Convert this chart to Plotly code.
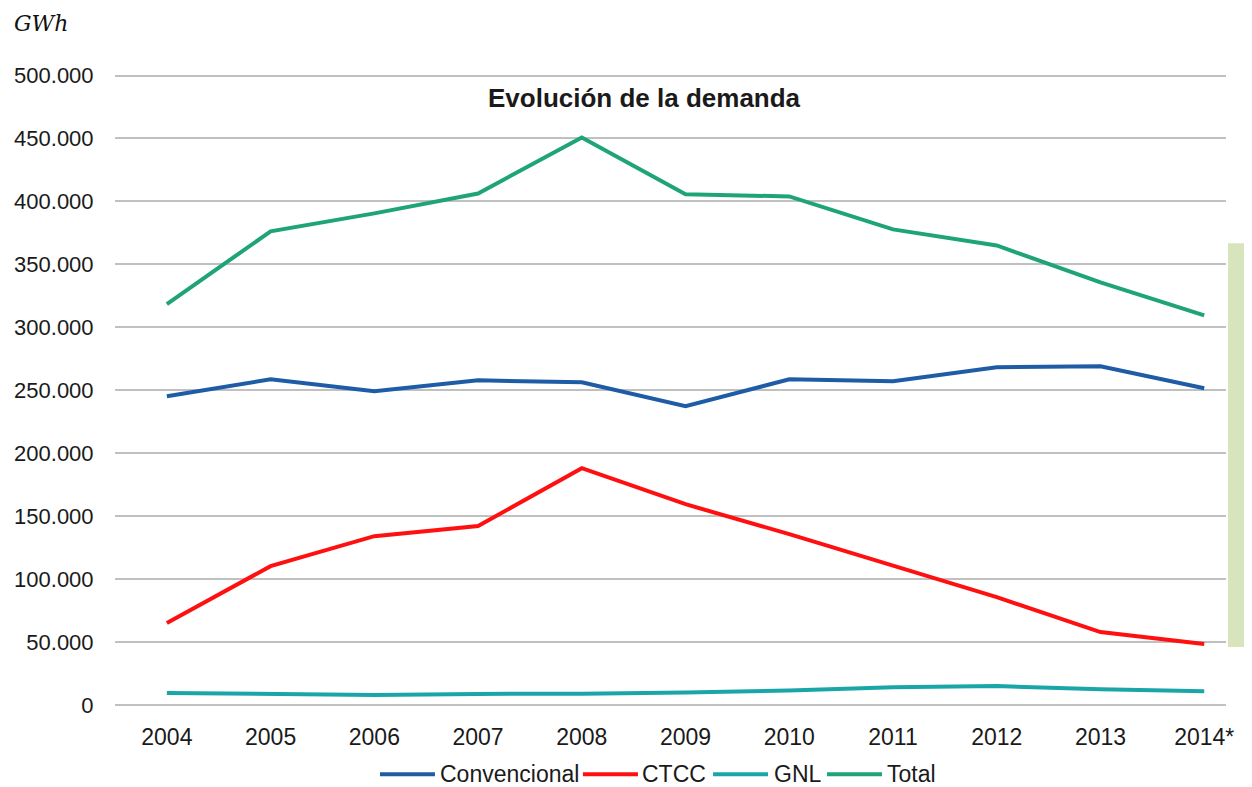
import plotly.graph_objects as go

years = ["2004", "2005", "2006", "2007", "2008", "2009", "2010", "2011", "2012", "2013", "2014*"]
convencional = [245200, 258700, 249200, 257900, 256300, 237300, 258700, 257100, 268300, 269000, 251600]
ctcc = [65100, 110300, 134100, 142100, 188100, 159500, 135700, 110300, 85700, 57900, 48400]
gnl = [9500, 9000, 8000, 8800, 9000, 10000, 11500, 14000, 15000, 12500, 11000]
total = [318500, 376200, 390500, 406300, 450800, 405600, 404000, 377800, 365000, 335700, 309500]
y_ticks = [0, 50000, 100000, 150000, 200000, 250000, 300000, 350000, 400000, 450000, 500000]

series_names = ["Convencional", "CTCC", "GNL", "Total"]
series_values = [convencional, ctcc, gnl, total]
series_colors = ["#1F5CA6", "#FF1010", "#1AA6A8", "#1FA47A"]

# legend layout (paper x positions of each item's line start and label start)
legend_line_x = [0.2385, 0.4212, 0.5383, 0.6409]
legend_text_x = [0.2907, 0.4725, 0.5914, 0.6931]
legend_line_len = 0.0495
legend_y = -0.1095

FONT = "Liberation Sans Narrow, Arial Narrow, Liberation Sans, Arial, sans-serif"
TXT = "#1a1a1a"

fig = go.Figure()
for name, vals, col in zip(series_names, series_values, series_colors):
    fig.add_trace(go.Scatter(x=years, y=vals, name=name, mode="lines",
                             line=dict(color=col, width=4), showlegend=False))

fig.update_layout(
    width=1244, height=779,
    paper_bgcolor="white", plot_bgcolor="white",
    separators=",.",
    margin=dict(l=107, r=26, t=65, b=82, autoexpand=False),
    font=dict(family=FONT, size=22, color=TXT),
    showlegend=False,
)
fig.update_xaxes(type="category", range=[-0.5, 10.21], showgrid=False, showline=False,
                 zeroline=False, ticks="outside", ticklen=11, tickcolor="rgba(0,0,0,0)",
                 tickfont=dict(family=FONT, size=23, color=TXT))
fig.update_yaxes(range=[0, 502000], tickvals=y_ticks, tickformat=",d",
                 showgrid=True, gridcolor="#C0C0C0", gridwidth=2,
                 zeroline=True, zerolinecolor="#C0C0C0", zerolinewidth=2,
                 showline=False, ticks="outside", ticklen=16, tickcolor="rgba(0,0,0,0)",
                 tickfont=dict(family=FONT, size=22, color=TXT))

# custom legend
for name, col, lx, tx in zip(series_names, series_colors, legend_line_x, legend_text_x):
    fig.add_shape(type="line", xref="paper", yref="paper", x0=lx, x1=lx + legend_line_len,
                  y0=legend_y, y1=legend_y, line=dict(color=col, width=4))
    fig.add_annotation(text=name, xref="paper", yref="paper", x=tx, y=legend_y,
                       xanchor="left", yanchor="middle", showarrow=False,
                       font=dict(family=FONT, size=23, color=TXT))

fig.add_annotation(text="<b>Evolución de la demanda</b>", xref="paper", yref="paper",
                   x=0.477, y=0.960, xanchor="center", yanchor="middle", showarrow=False,
                   font=dict(family=FONT, size=26, color=TXT))
fig.add_annotation(text="<i>GWh</i>", xref="paper", yref="paper",
                   x=-0.0927, y=1.079, xanchor="left", yanchor="middle", showarrow=False,
                   font=dict(family="DejaVu Serif, Liberation Serif, serif", size=22, color="#111111"))

fig.add_shape(type="rect", xref="paper", yref="y", x0=1.0018, x1=1.03, y0=46000, y1=366700,
              fillcolor="#D8E4BC", line=dict(width=0), layer="above")

fig.write_html("out.html")
